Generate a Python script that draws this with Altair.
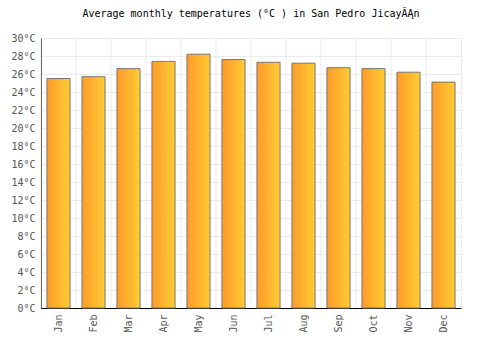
import altair as alt
import pandas as pd

months = ["Jan", "Feb", "Mar", "Apr", "May", "Jun", "Jul", "Aug", "Sep", "Oct", "Nov", "Dec"]
temps = [25.5, 25.7, 26.6, 27.4, 28.2, 27.6, 27.3, 27.2, 26.7, 26.6, 26.2, 25.1]
y_ticks = list(range(0, 31, 2))

df = pd.DataFrame({"month": months, "temp": temps})

FONT = "DejaVu Sans Mono"

grad = alt.Gradient(
    gradient="linear",
    stops=[alt.GradientStop(color="#ff9a2b", offset=0), alt.GradientStop(color="#ffcc33", offset=1)],
    x1=0, x2=1, y1=0, y2=0,
)

xscale = alt.Scale(domain=months, paddingInner=0.34, paddingOuter=0.17)

xaxis = alt.Axis(title=None, labelAngle=-90, labelFont=FONT, labelFontSize=10,
                 labelColor="#555555", ticks=False, grid=False, domainColor="#000000",
                 labelPadding=6, labelAlign="right", labelBaseline="middle")

grid = alt.Chart(df).mark_rule(color="#ebebeb", strokeWidth=1, xOffset=-6).encode(
    x=alt.X("month:N", scale=xscale, sort=months, bandPosition=0, axis=xaxis),
)

bars = alt.Chart(df).mark_bar(fill=grad, stroke="#777777", strokeWidth=1).encode(
    x=alt.X("month:N", sort=months, scale=xscale, axis=xaxis),
    y=alt.Y("temp:Q", scale=alt.Scale(domain=[0, 30], nice=False),
            axis=alt.Axis(title=None, values=y_ticks, labelExpr="datum.value + '°C'",
                          labelFont=FONT, labelFontSize=10, labelColor="#555555",
                          ticks=False, gridColor="#ebebeb", domainColor="#000000", labelPadding=6)),
)

chart = alt.layer(grid, bars).properties(
    width=420, height=270,
    title=alt.Title("Average monthly temperatures (°C ) in San Pedro JicayÃĄn",
                    font=FONT, fontSize=10, fontWeight="normal", color="#000000",
                    anchor="middle", offset=14),
    autosize=alt.AutoSizeParams(type="none"),
    padding={"left": 41, "top": 38, "right": 39, "bottom": 42},
).configure_view(stroke="#ebebeb")

chart.save("out.html", embed_options={"renderer": "svg", "actions": False})
